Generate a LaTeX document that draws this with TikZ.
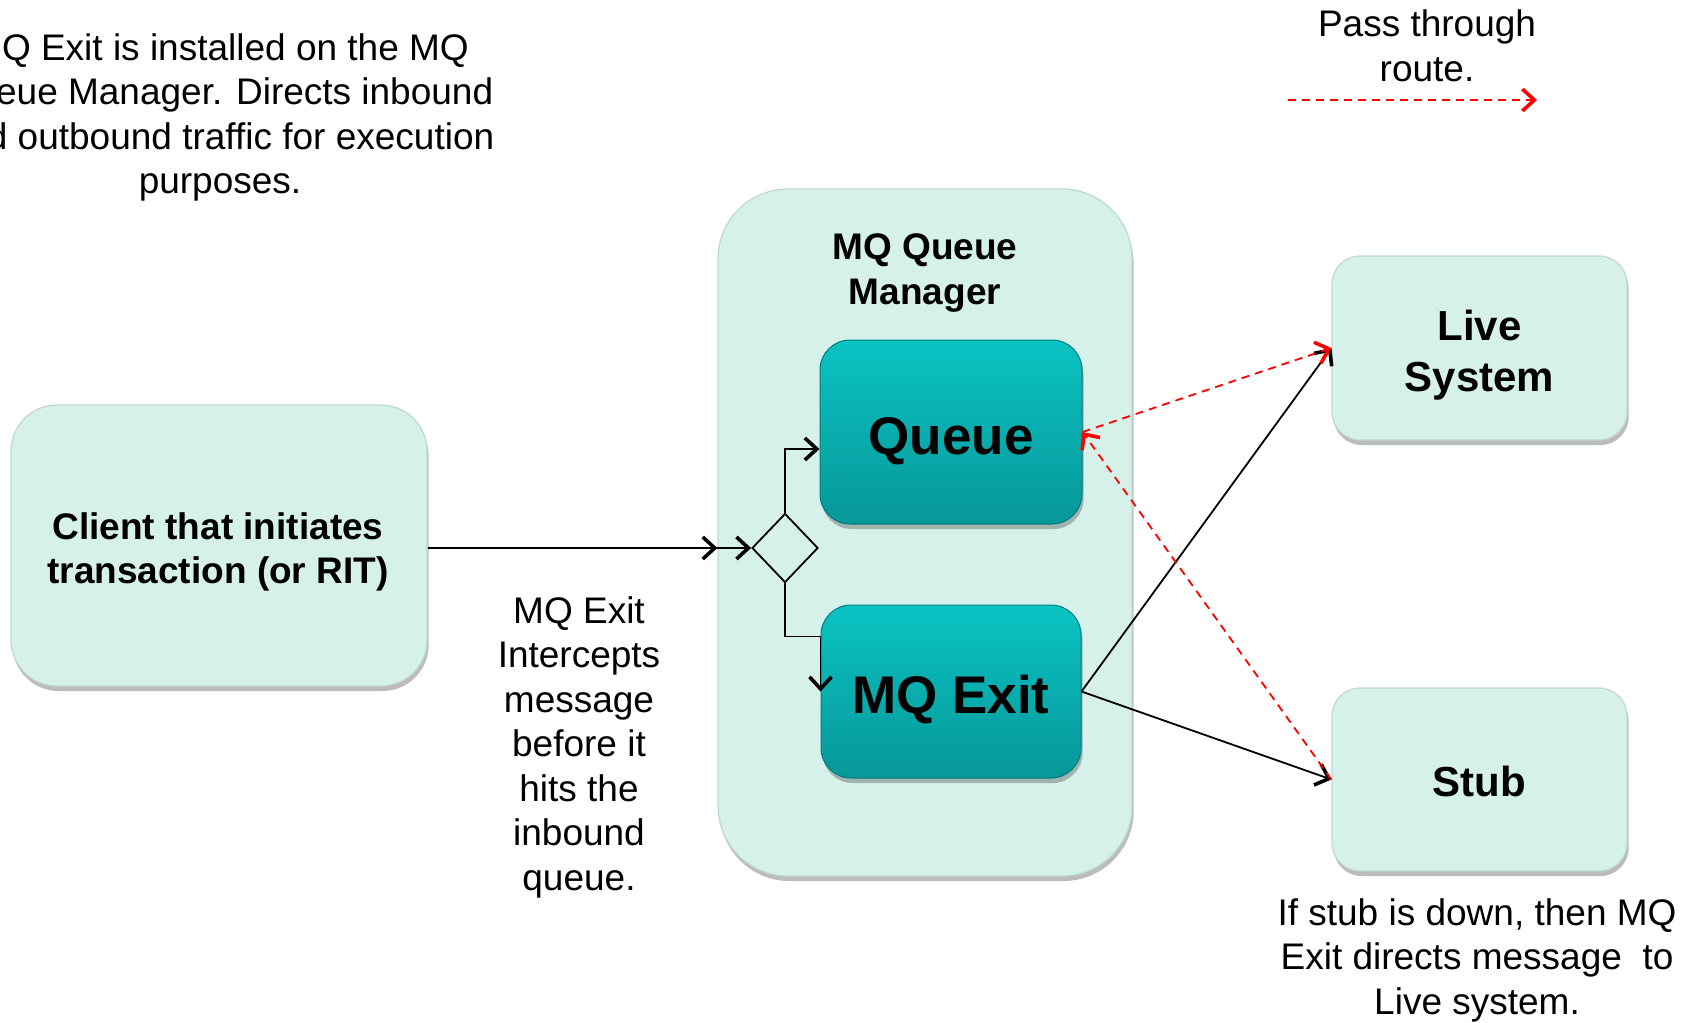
\documentclass[tikz,border=0pt]{standalone}
\usepackage{fontspec}
\setmainfont{Liberation Sans}
\usetikzlibrary{arrows.meta,shapes.geometric,shadows,calc}
\definecolor{mint}{HTML}{D6F1EA}
\definecolor{mintedge}{HTML}{BCD9D2}
\definecolor{tealtop}{HTML}{0BC3C3}
\definecolor{tealbot}{HTML}{079799}
\definecolor{tealedge}{HTML}{06797B}
\definecolor{passred}{HTML}{FF0000}
\begin{document}
\begin{tikzpicture}[x=0.5pt,y=-0.5pt,
  softshadow/.style={drop shadow={shadow xshift=0.8pt,shadow yshift=-2.5pt,opacity=0.35,fill=black!75}},
  mintbox/.style={rectangle, rounded corners=#1, fill=mint, draw=mintedge, line width=0.6pt,
    softshadow, inner sep=0pt},
  tealbox/.style={rectangle, rounded corners=15pt, top color=tealtop, bottom color=tealbot,
    draw=tealedge, line width=0.5pt, softshadow, inner sep=0pt},
  tealtext/.style={align=center, inner sep=0pt, font=\fontsize{26.5}{32}\selectfont\bfseries},
  boldtext/.style={align=center, inner sep=0pt, font=\fontsize{18.5}{22}\selectfont\bfseries},
  bigbold/.style={align=center, inner sep=0pt, font=\fontsize{21}{25.5}\selectfont\bfseries},
  plaintext/.style={align=center, inner sep=0pt, font=\fontsize{18.5}{22.25}\selectfont},
  conn/.style={draw=black, line width=0.9pt, -{Straight Barb[length=6pt,width=11pt,line width=1.8pt]}},
  passroute/.style={draw=passred, line width=0.9pt, dash pattern=on 4pt off 3pt,
    -{Straight Barb[length=6pt,width=11pt,line width=1.8pt]}}
]
\useasboundingbox (0,0) rectangle (1695,1022);
\fill[white] (0,0) rectangle (1695,1022);

% boxes
\node[mintbox=23pt, minimum width=208pt, minimum height=140.5pt] (client) at (219,545.5) {};
\node[mintbox=35pt, minimum width=207pt, minimum height=343.5pt] (mgr) at (925,532.5) {};
\node[tealbox, minimum width=131pt, minimum height=92pt] (queue) at (951,432) {};
\node[tealbox, minimum width=130pt, minimum height=86.5pt] (exit) at (951,691.5) {};
\node[mintbox=14pt, minimum width=147.5pt, minimum height=92pt] (live) at (1479.5,348) {};
\node[mintbox=14pt, minimum width=147.5pt, minimum height=91.5pt] (stub) at (1479.5,779.5) {};
\node[diamond, draw=black, line width=0.9pt, minimum width=33pt, minimum height=34.5pt,
  inner sep=0pt] (dia) at (785,548) {};

% box texts
\node[boldtext] (clienttext) at (218,552) {Client that initiates\\transaction (or RIT)};
\node[boldtext, font=\fontsize{18.5}{22.5}\selectfont\bfseries] (mgrtitle) at (925,272.5)
  {MQ Queue\\Manager};
\node[tealtext] (queuetext) at (951,441.5) {Queue};
\node[tealtext] (exittext) at (951,700) {MQ Exit};
\node[bigbold] (livetext) at (1479.5,355.5) {Live\\System};
\node[bigbold] (stubtext) at (1479.5,781.5) {Stub};

% free texts
\node[plaintext] (toptext) at (220,117.5)
  {MQ Exit is installed on the MQ\\Queue Manager. Directs inbound\\and outbound traffic for execution\\purposes.};
\node[plaintext] (midtext) at (579,747)
  {MQ Exit\\Intercepts\\message\\before it\\hits the\\inbound\\queue.};
\node[plaintext] (bottext) at (1477,960)
  {If stub is down, then MQ\\Exit directs message\ \ to\\Live system.};
\node[plaintext] (legend) at (1427,46) {Pass through\\route.};
\coordinate (legA) at (1288,100);
\coordinate (legB) at (1537,100);
\draw[passroute] (legA) -- (legB);

% connectors
\coordinate (mgrin) at (mgr.west |- dia.west);
\draw[conn] (client.east |- dia.west) -- (mgrin);
\draw[conn] (mgrin) -- (dia.west);
\draw[conn] (dia.north) |- ([yshift=-8.5pt]queue.west);
\draw[conn] (dia.south) |- ($(exit.west)+(0,-55)$) -- (exit.west);
\draw[conn] (exit.east) -- (live.west);
\draw[conn] (exit.east) -- (stub.west);
\draw[passroute] (stub.west) -- (queue.east);
\draw[passroute] (queue.east) -- (live.west);
\end{tikzpicture}
\end{document}
